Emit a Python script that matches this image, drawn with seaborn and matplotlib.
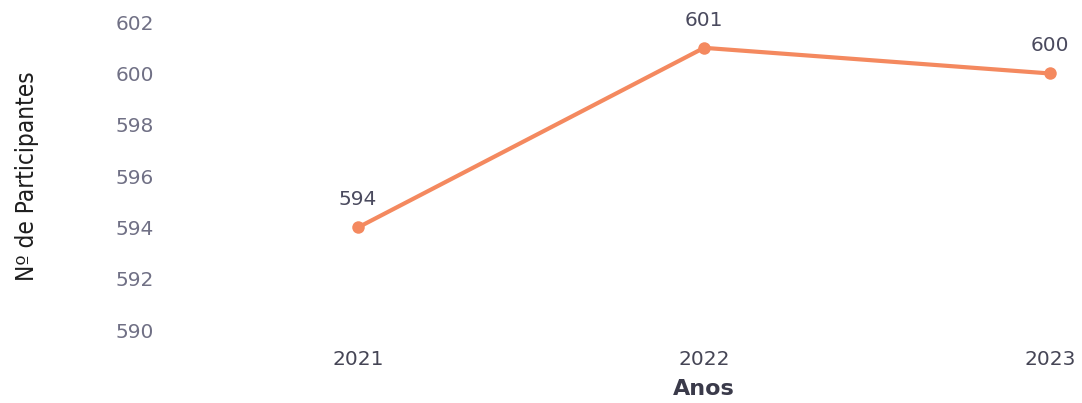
import matplotlib
matplotlib.use("Agg")
import matplotlib.pyplot as plt
import matplotlib.transforms as mtransforms
import seaborn as sns
import pandas as pd

years = [2021, 2022, 2023]
participants = [594, 601, 600]
y_ticks = [590, 592, 594, 596, 598, 600, 602]

sns.set_theme(style="white")
plt.rcParams['font.family'] = ['DejaVu Sans']

df = pd.DataFrame({"Anos": years, "Participantes": participants})

fig = plt.figure(figsize=(10.82, 4.03), dpi=100)
ax = fig.add_axes([0.1525, 0.181, 0.841, 0.764])

line_color = "#F4895F"
sns.lineplot(data=df, x="Anos", y="Participantes", ax=ax, color=line_color,
             linewidth=3, marker="o", markersize=9, markeredgewidth=0)

ax.set_ylim(590, 602)
ax.set_xlim(2021 - 0.558, 2023 + 0.072)
ax.set_yticks(y_ticks)
ax.set_yticklabels([str(t) for t in y_ticks])
ax.set_xticks(years)
ax.set_xticklabels([str(y) for y in years])
ax.tick_params(axis="y", length=0, pad=8, labelsize=14.5, labelcolor="#707085")
ax.tick_params(axis="x", length=0, pad=14, labelsize=14.5, labelcolor="#454555")
for s in ax.spines.values():
    s.set_visible(False)
ax.grid(False)

for x, y in zip(years, participants):
    ax.annotate(str(y), (x, y), xytext=(0, 20), textcoords="offset points",
                ha="center", va="center", fontsize=14.5, color="#4a4a5e")

ax.set_ylabel("Nº de Participantes", fontsize=17.5, color="#1e1e1e",
              fontstretch="condensed", fontweight="medium",
              family=["DejaVu Sans"])
ax.yaxis.set_label_coords(-0.152, 0.5)
ax.yaxis.label.set_va("center")

ax.set_xlabel("Anos", fontsize=16, fontweight="bold", color="#3a3a4a")
ax.xaxis.set_label_coords(2022, -0.19,
                          transform=mtransforms.blended_transform_factory(ax.transData, ax.transAxes))
ax.xaxis.label.set_va("center")

fig.savefig("out.png", dpi=100)
